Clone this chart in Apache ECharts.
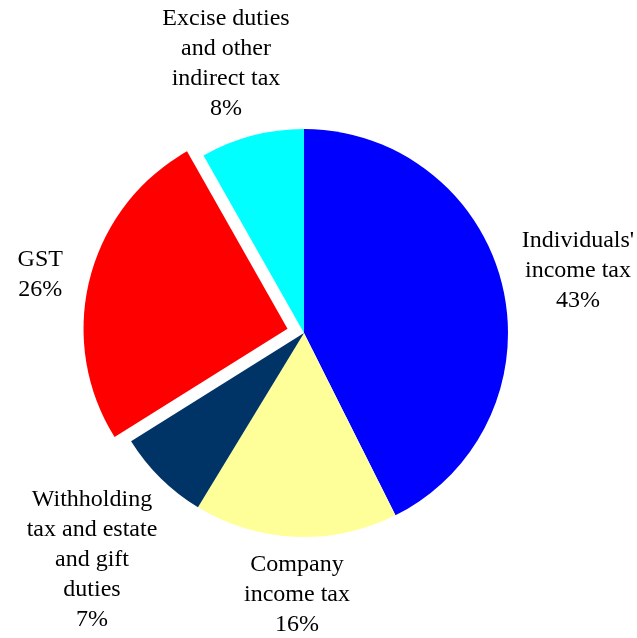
<!DOCTYPE html>
<html>
<head>
<meta charset="utf-8">
<script src="https://cdn.jsdelivr.net/npm/echarts@6/dist/echarts.min.js"></script>
<style>
  html, body { margin: 0; padding: 0; background: #fff; }
  #chart { width: 637px; height: 638px; }
</style>
</head>
<body>
<div id="chart"></div>
<script>
// tax revenue shares, clockwise from 12 o'clock
const categories = [
  "Individuals'\nincome tax",
  'Company\nincome tax',
  'Withholding\ntax and estate\nand gift\nduties',
  'GST',
  'Excise duties\nand other\nindirect tax'
];
const shares = [42.6, 16.1, 7.4, 25.7, 8.2];
const sliceColors = ['#0000ff', '#ffff99', '#003366', '#ff0000', '#00ffff'];
const explodedIndex = 3;

// label block centres (layout only)
const labelAnchors = [[578, 271], [297, 595], [92, 560], [37, 277], [226, 64]];

const chart = echarts.init(document.getElementById('chart'));

chart.setOption({
  animation: false,
  series: [{
    type: 'pie',
    center: [304, 333],
    radius: 204,
    startAngle: 90,
    clockwise: true,
    selectedMode: 'single',
    selectedOffset: 17,
    avoidLabelOverlap: false,
    emphasis: { disabled: true },
    label: {
      show: true,
      position: 'outside',
      fontFamily: "'Liberation Serif', 'Times New Roman', serif",
      fontSize: 24,
      lineHeight: 30,
      color: '#000',
      align: 'center',
      formatter: p => p.name + '\n' + Math.round(p.percent) + '%'
    },
    labelLine: { show: false },
    labelLayout: p => ({
      x: labelAnchors[p.dataIndex][0],
      y: labelAnchors[p.dataIndex][1],
      align: 'center',
      verticalAlign: 'middle'
    }),
    data: categories.map((name, i) => ({
      name: name,
      value: shares[i],
      selected: i === explodedIndex,
      itemStyle: { color: sliceColors[i], borderWidth: 0 },
      select: { itemStyle: { color: sliceColors[i], borderWidth: 0 } }
    }))
  }]
});
</script>
</body>
</html>
